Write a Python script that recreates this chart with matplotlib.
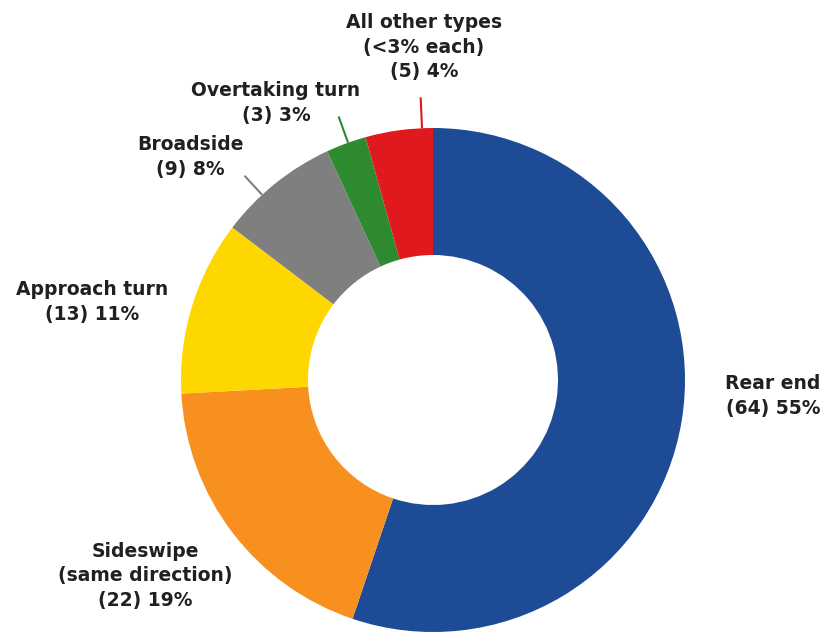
import numpy as np
import matplotlib.pyplot as plt

# crash types, clockwise from 12 o'clock
TYPES = ["Rear end", "Sideswipe\n(same direction)", "Approach turn",
         "Broadside", "Overtaking turn", "All other types\n(<3% each)"]
COUNTS = [64, 22, 13, 9, 3, 5]
PCTS = [55, 19, 11, 8, 3, 4]

COLORS = ["#1d4b95", "#f7901e", "#ffd700", "#7f7f7f", "#2e8a2e", "#e0191f"]

# label centres in pixel space (y from top), leader-line angle and length
LABEL_POS = [(773, 396), (145, 576), (92, 302), (190, 157), (276, 103), (424, 47)]
LEADER_ANG = [None, None, None, 132.7, 109.7, 92.5]
LEADER_LEN = [0, 0, 0, 26, 28, 31]

W, H = 830, 633
CX, CY = 433, 380
R_OUT, R_IN = 252, 125

fig = plt.figure(figsize=(W / 100, H / 100), dpi=100)
ax = fig.add_axes([0, 0, 1, 1])

ax.pie(COUNTS, colors=COLORS, startangle=90, counterclock=False,
       radius=R_OUT, center=(CX, H - CY),
       wedgeprops=dict(width=R_OUT - R_IN, linewidth=0))
# pie() resets the limits, so set them afterwards
ax.set_xlim(0, W)
ax.set_ylim(0, H)
ax.set_aspect("equal")
ax.axis("off")

for name, n, p, (tx, ty), col, ang, ln in zip(TYPES, COUNTS, PCTS, LABEL_POS,
                                              COLORS, LEADER_ANG, LEADER_LEN):
    ax.text(tx, H - ty, f"{name}\n({n}) {p}%", ha="center", va="center",
            fontsize=13.5, fontweight="bold", color="#231f20",
            linespacing=1.38, family="DejaVu Sans")
    if ang is not None:
        a = np.radians(ang)
        x0, y0 = CX + R_OUT * np.cos(a), H - CY + R_OUT * np.sin(a)
        x1, y1 = CX + (R_OUT + ln) * np.cos(a), H - CY + (R_OUT + ln) * np.sin(a)
        ax.plot([x0, x1], [y0, y1], color=col, lw=1.5, solid_capstyle="butt")

fig.savefig("out.png", dpi=100, facecolor="white")
